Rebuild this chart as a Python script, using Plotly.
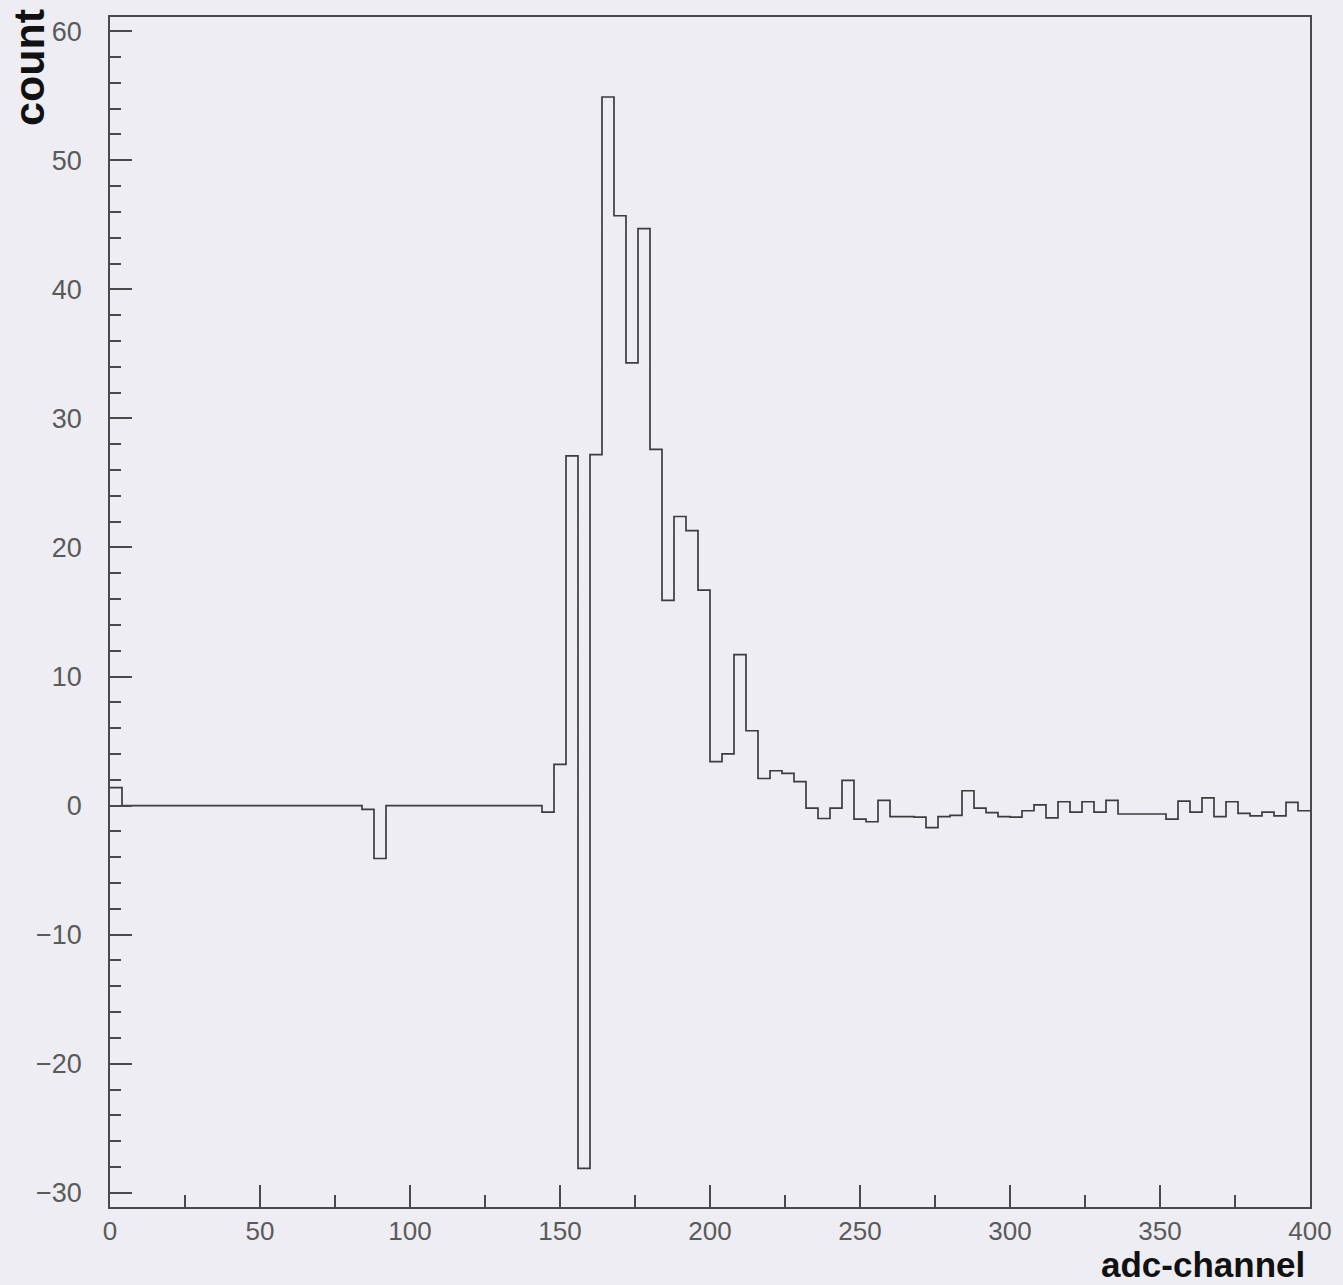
import plotly.graph_objects as go

# Histogram: 100 bins of width 4 over adc-channel 0..400
bin_width = 4
counts = [
    1.4, 0, 0, 0, 0, 0, 0, 0, 0, 0,            # 0-40
    0, 0, 0, 0, 0, 0, 0, 0, 0, 0,              # 40-80
    0, -0.3, -4.1, 0, 0, 0, 0, 0, 0, 0,        # 80-120
    0, 0, 0, 0, 0, 0, -0.5, 3.2, 27.1, -28.1,  # 120-160
    27.2, 54.9, 45.7, 34.3, 44.7, 27.6, 15.9, 22.4, 21.3, 16.7,  # 160-200
    3.4, 4.0, 11.7, 5.8, 2.1, 2.7, 2.5, 1.85, -0.2, -1.0,        # 200-240
    -0.2, 1.95, -1.05, -1.25, 0.4, -0.85, -0.85, -0.9, -1.7, -0.85,  # 240-280
    -0.75, 1.15, -0.2, -0.55, -0.85, -0.9, -0.4, 0.05, -0.95, 0.3,   # 280-320
    -0.5, 0.3, -0.5, 0.4, -0.65, -0.65, -0.65, -0.65, -1.05, 0.35,   # 320-360
    -0.5, 0.6, -0.85, 0.3, -0.6, -0.8, -0.5, -0.8, 0.25, -0.4,       # 360-400
]
edges = [i * bin_width for i in range(len(counts) + 1)]
step_y = counts + [counts[-1]]

x_ticks = [0, 50, 100, 150, 200, 250, 300, 350, 400]
y_ticks = [-30, -20, -10, 0, 10, 20, 30, 40, 50, 60]
x_label = "adc-channel"
y_label = "count"

bg = "#eeedf3"
axis_col = "#4a4a4a"
font_fam = "Liberation Sans, Arial, sans-serif"
tick_font = dict(family=font_fam, size=27, color="#5a5a5a")
x_tick_font = dict(family=font_fam, size=26, color="#5a5a5a")

fig = go.Figure()
fig.add_trace(go.Scatter(
    x=edges, y=step_y, mode="lines", line_shape="hv",
    line=dict(color="#3c3c3c", width=1.7), hoverinfo="skip", showlegend=False,
))

fig.update_layout(
    width=1343, height=1285,
    margin=dict(l=110, r=33, t=17, b=78),
    paper_bgcolor=bg, plot_bgcolor=bg,
    showlegend=False,
    xaxis=dict(
        range=[0, 400], tickvals=x_ticks, ticks="inside", ticklen=22, tickwidth=1.5,
        tickcolor=axis_col, showline=True, linecolor=axis_col, linewidth=1.5,
        mirror=True, showgrid=False, zeroline=False, tickfont=x_tick_font,
        ticklabelstandoff=0,
        minor=dict(dtick=25, tick0=0, ticks="inside", ticklen=12, tickwidth=1.5,
                   tickcolor=axis_col, showgrid=False),
    ),
    yaxis=dict(
        range=[-31.1, 61.1], tickvals=y_ticks, ticks="inside", ticklen=22, tickwidth=1.5,
        tickcolor=axis_col, showline=True, linecolor=axis_col, linewidth=1.5,
        mirror=True, showgrid=False, zeroline=False, tickfont=tick_font,
        ticklabelstandoff=21,
        minor=dict(dtick=2, tick0=0, ticks="inside", ticklen=11, tickwidth=1.5,
                   tickcolor=axis_col, showgrid=False),
    ),
    annotations=[
        dict(text="<b>" + y_label + "</b>", xref="paper", yref="paper", x=-0.068, y=1.0,
             xanchor="center", yanchor="top", yshift=10, textangle=-90, showarrow=False,
             font=dict(family=font_fam, size=43, color="#111")),
        dict(text="<b>" + x_label + "</b>", xref="paper", yref="paper", x=0.9975, y=0,
             xanchor="right", yanchor="top", yshift=-36, showarrow=False,
             font=dict(family=font_fam, size=35, color="#111")),
    ],
)

fig.write_html("out.html")
